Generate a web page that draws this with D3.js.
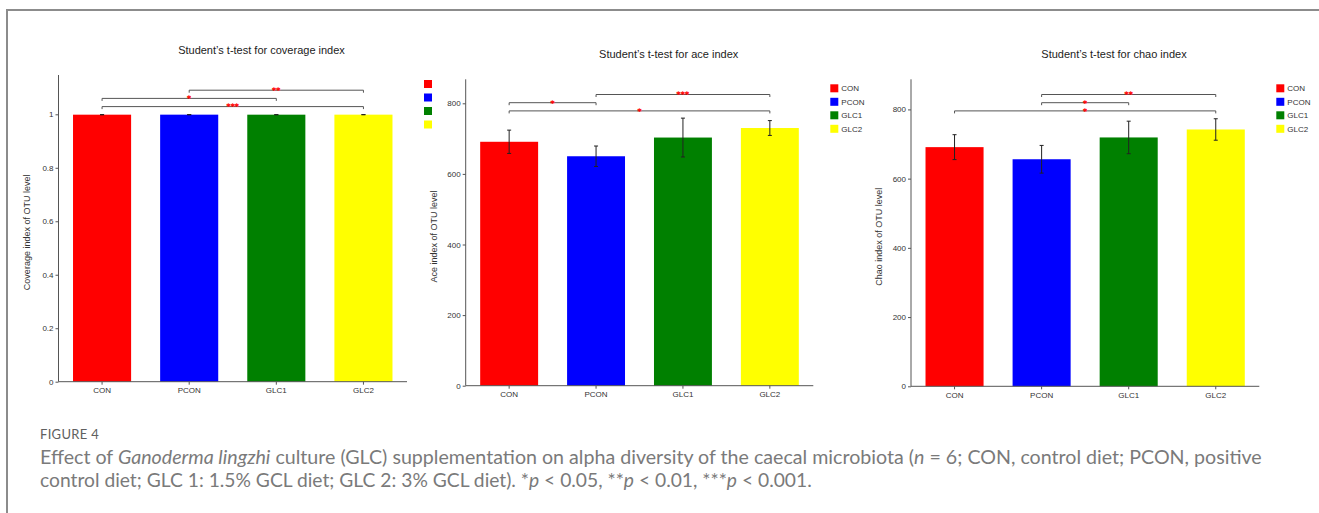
<!DOCTYPE html>
<html>
<head>
<meta charset="utf-8">
<script src="https://cdn.jsdelivr.net/npm/d3@7"></script>
<style>
  html, body { margin: 0; padding: 0; background: #fff; }
  svg { display: block; }
</style>
</head>
<body>
<svg id="fig" width="1319" height="513"></svg>
<script>
// Groups and colours shared by the three panels
const groups = ["CON", "PCON", "GLC1", "GLC2"];
const groupColors = ["#ff0000", "#0000ff", "#008000", "#ffff00"];

// Coverage index (mean, SD)
const coverageMean = [0.9986, 0.9987, 0.9986, 0.9987];
const coverageSd = [0.0003, 0.0002, 0.0003, 0.0002];
const coverageTicks = [0, 0.2, 0.4, 0.6, 0.8, 1];
const coverageSig = [
  { a: 1, b: 3, label: "**" },
  { a: 0, b: 2, label: "*" },
  { a: 0, b: 3, label: "***" }
];

// ACE index (mean, SD)
const aceMean = [691, 650, 703, 730];
const aceSd = [33, 29, 55, 21];
const aceTicks = [0, 200, 400, 600, 800];
const aceSig = [
  { a: 1, b: 3, label: "***" },
  { a: 0, b: 1, label: "*" },
  { a: 0, b: 3, label: "*" }
];

// Chao index (mean, SD)
const chaoMean = [691, 656, 719, 742];
const chaoSd = [36, 40, 47, 31];
const chaoTicks = [0, 200, 400, 600, 800];
const chaoSig = [
  { a: 1, b: 3, label: "**" },
  { a: 1, b: 2, label: "*" },
  { a: 0, b: 3, label: "*" }
];

const panels = [
  { title: "Student\u2019s t-test for coverage index", ylab: "Coverage index of OTU level",
    mean: coverageMean, sd: coverageSd, ticks: coverageTicks, ymax: 1.147, sig: coverageSig,
    x0: 58.5, x1: 407, y0: 75, y1: 381.7, ylabX: 30, legendText: false },
  { title: "Student\u2019s t-test for ace index", ylab: "Ace index of OTU level",
    mean: aceMean, sd: aceSd, ticks: aceTicks, ymax: 868, sig: aceSig,
    x0: 465.7, x1: 813.3, y0: 79.3, y1: 385.7, ylabX: 436.7, legendText: true },
  { title: "Student\u2019s t-test for chao index", ylab: "Chao index of OTU level",
    mean: chaoMean, sd: chaoSd, ticks: chaoTicks, ymax: 887, sig: chaoSig,
    x0: 911, x1: 1259.3, y0: 79.3, y1: 386.3, ylabX: 881.7, legendText: true }
];

const svg = d3.select("#fig");
const chartFont = "'Liberation Sans', Arial, sans-serif";

// Figure frame
svg.append("path")
  .attr("d", "M7,513 V10 H1319")
  .attr("fill", "none")
  .attr("stroke", "#8c8c8c")
  .attr("stroke-width", 2);

panels.forEach(p => {
  const g = svg.append("g").attr("font-family", chartFont);

  const x = d3.scaleBand().domain(groups).range([p.x0, p.x1])
    .paddingInner(1 / 3).paddingOuter(1 / 6);
  const y = d3.scaleLinear().domain([0, p.ymax]).range([p.y1, p.y0]);

  // Title
  g.append("text")
    .attr("x", p.x0 + 203).attr("y", p.y0 - 21)
    .attr("text-anchor", "middle")
    .attr("font-size", 11).attr("fill", "#222")
    .text(p.title);

  // Bars
  g.selectAll("rect.bar").data(groups).join("rect")
    .attr("class", "bar")
    .attr("x", d => x(d))
    .attr("width", x.bandwidth())
    .attr("y", (d, i) => y(p.mean[i]))
    .attr("height", (d, i) => y(0) - y(p.mean[i]))
    .attr("fill", (d, i) => groupColors[i]);

  // Error bars (mean ± SD)
  const eb = g.append("g").attr("stroke", "#222").attr("stroke-width", 1);
  groups.forEach((d, i) => {
    const cx = x(d) + x.bandwidth() / 2;
    const hi = y(p.mean[i] + p.sd[i]);
    const lo = y(p.mean[i] - p.sd[i]);
    eb.append("line").attr("x1", cx).attr("x2", cx).attr("y1", hi).attr("y2", lo);
    eb.append("line").attr("x1", cx - 2).attr("x2", cx + 2).attr("y1", hi).attr("y2", hi);
    eb.append("line").attr("x1", cx - 2).attr("x2", cx + 2).attr("y1", lo).attr("y2", lo);
  });

  // Axes
  const yAxis = d3.axisLeft(y).tickValues(p.ticks).tickSize(3).tickSizeOuter(0)
    .tickFormat(d3.format("~g"));
  const gy = g.append("g").attr("transform", `translate(${p.x0},0)`).call(yAxis);
  const xAxis = d3.axisBottom(x).tickSize(3).tickSizeOuter(0);
  const gx = g.append("g").attr("transform", `translate(0,${p.y1})`).call(xAxis);
  [gx, gy].forEach(ax => {
    ax.select(".domain").attr("stroke", "#555");
    ax.selectAll(".tick line").attr("stroke", "#555");
    ax.selectAll(".tick text").attr("fill", "#333").attr("font-size", 8)
      .attr("font-family", chartFont);
  });
  // axis lines spanning the full plot area
  gy.select(".domain").attr("d", `M0,${p.y0}V${p.y1}`);
  gx.select(".domain").attr("d", `M${p.x0},0H${p.x1}`);
  gy.selectAll(".tick text").attr("x", -5);
  gx.selectAll(".tick text").attr("y", 6);

  // Y axis title
  g.append("text")
    .attr("transform", `translate(${p.ylabX},${(p.y0 + p.y1) / 2 + 4}) rotate(-90)`)
    .attr("text-anchor", "middle")
    .attr("font-size", 9).attr("fill", "#333")
    .text(p.ylab);

  // Significance brackets
  p.sig.forEach((s, level) => {
    const ly = p.y0 + 15.2 + level * 8.2;
    const xa = x(groups[s.a]) + x.bandwidth() / 2;
    const xb = x(groups[s.b]) + x.bandwidth() / 2;
    g.append("path")
      .attr("d", `M${xa},${ly + 2.5}V${ly}H${xb}V${ly + 2.5}`)
      .attr("fill", "none").attr("stroke", "#555").attr("stroke-width", 1);
    g.append("text")
      .attr("x", (xa + xb) / 2).attr("y", ly + 2.8)
      .attr("text-anchor", "middle")
      .attr("font-family", "'DejaVu Sans', sans-serif")
      .attr("font-size", 7.5).attr("font-weight", "bold").attr("fill", "#ff0000")
      .attr("stroke", "#ff0000").attr("stroke-width", 0.3)
      .attr("letter-spacing", 0.3)
      .text(s.label);
  });

  // Legend
  const lg = g.append("g");
  groups.forEach((d, i) => {
    const cy = p.y0 + 9 + i * 13.5;
    lg.append("rect")
      .attr("x", p.x1 + 17).attr("y", cy - 4).attr("width", 8).attr("height", 8)
      .attr("fill", groupColors[i]);
    if (p.legendText) {
      lg.append("text")
        .attr("x", p.x1 + 28).attr("y", cy + 3)
        .attr("font-size", 8).attr("fill", "#333")
        .text(d);
    }
  });
});

// Caption
const capFont = "Lato, 'Open Sans', sans-serif";
const cap = svg.append("g").attr("font-family", capFont).attr("fill", "#7a7a7a");

cap.append("text")
  .attr("x", 40).attr("y", 438.5)
  .attr("font-size", 13).attr("letter-spacing", 0.3).attr("fill", "#606060")
  .text("FIGURE 4");

function captionLine(parts, yPos, targetWidth) {
  const t = cap.append("text").attr("x", 40).attr("y", yPos).attr("font-size", 16);
  parts.forEach(([txt, it]) => {
    const ts = t.append("tspan").text(txt);
    if (it) ts.attr("font-style", "italic");
  });
  const w = t.node().getComputedTextLength();
  t.attr("font-size", 16 * targetWidth / w);
  return t;
}

captionLine([
  ["Effect of ", false], ["Ganoderma lingzhi", true],
  [" culture (GLC) supplementation on alpha diversity of the caecal microbiota (", false],
  ["n", true], [" = 6; CON, control diet; PCON, positive", false]
], 463.5, 1223);

captionLine([
  ["control diet; GLC 1: 1.5% GCL diet; GLC 2: 3% GCL diet). *", false], ["p", true],
  [" < 0.05, **", false], ["p", true], [" < 0.01, ***", false], ["p", true],
  [" < 0.001.", false]
], 486.5, 772);
</script>
</body>
</html>
